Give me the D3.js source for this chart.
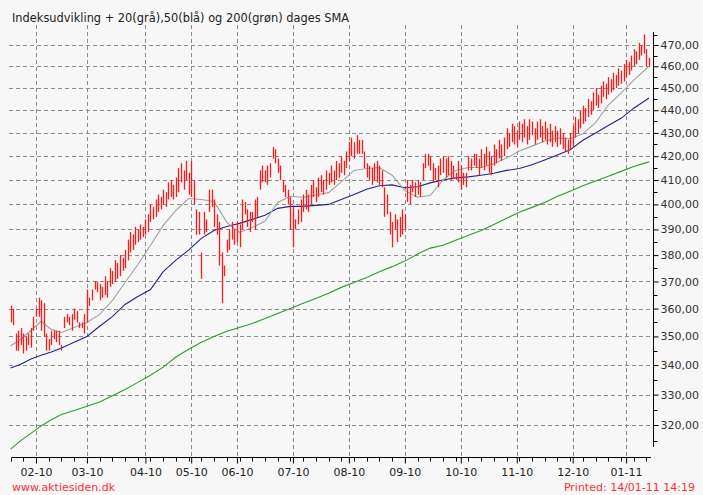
<!DOCTYPE html>
<html>
<head>
<meta charset="utf-8">
<script src="https://cdn.jsdelivr.net/npm/d3@7"></script>
<style>
  html, body { margin: 0; padding: 0; background: #f7f7f7; }
  svg { display: block; font-family: "DejaVu Sans", Verdana, sans-serif; }
</style>
</head>
<body>
<div id="chart"></div>
<script>
var title = 'Indeksudvikling + 20(grå),50(blå) og 200(grøn) dages SMA';
var siteText = 'www.aktiesiden.dk';
var printedText = 'Printed: 14/01-11 14:19';

var monthLabels = ['02-10', '03-10', '04-10', '05-10', '06-10', '07-10', '08-10', '09-10', '10-10', '11-10', '12-10', '01-11'];
var monthDay = [10, 30, 53, 71, 89, 111, 133, 155, 177, 199, 221, 242];
var yTicks = [320, 330, 340, 350, 360, 370, 380, 390, 400, 410, 420, 430, 440, 450, 460, 470];

var hi = [361,360,351,352,353,351,350,351,353,357,360,364,363,362,351,349,352,352,352,352,347,357,358,357,358,360,359,355,355,358,367,364,367,370,370,
  369,368,372,370,375,374,378,377,380,379,382,386,389,388,391,390,392,391,394,396,400,399,402,404,403,406,405,409,410,408,
  411,415,417,414,418,413,418,410,398,397,381,397,394,406,406,402,396,393,381,376,386,390,393,390,393,392,402,401,398,397,397,402,403,414,416,414,416,417,424,423,419,416,410,408,406,403,399,394,398,402,404,
  406,404,408,410,407,411,412,410,414,413,416,414,418,417,420,418,422,426,428,426,429,427,427,422,417,416,415,417,418,416,414,407,404,397,393,396,394,395,398,396,410,408,410,409,410,409,417,421,421,420,417,415,416,419,420,419,420,418,416,413,418,416,413,413,420,419,421,421,
  419,423,421,424,422,420,425,423,427,425,428,432,430,434,433,431,435,434,436,433,436,435,432,435,436,433,435,432,434,431,433,431,432,430,428,427,430,433,437,436,440,442,441,445,444,448,450,447,451,453,452,455,454,457,456,459,458,461,463,462,465,468,467,471,470,475,468,464];
var lo = [355,354,345,345,347,344,345,347,346,352,357,357,352,350,345,345,347,349,348,347,345,353,355,354,352,356,355,353,353,351,355,361,363,367,366,
  363,364,365,364,368,369,370,371,372,374,375,378,381,382,384,385,386,387,388,389,393,394,395,397,398,400,399,402,403,402,
  403,405,409,406,410,404,403,400,388,388,371,388,389,397,399,391,388,376,362,372,381,382,386,384,385,383,390,396,391,389,393,390,395,406,409,409,408,411,419,417,413,410,405,403,400,390,383,390,392,393,397,
  398,397,400,403,401,403,405,404,406,408,409,408,410,411,413,412,415,418,420,419,421,421,421,415,411,410,408,410,409,408,407,395,396,388,383,390,385,387,388,390,401,400,405,403,404,403,410,415,416,414,409,410,407,412,413,411,412,410,411,410,409,406,408,407,414,414,416,415,
  412,415,414,416,413,412,416,417,419,418,420,423,424,426,425,424,427,426,428,425,427,429,425,427,428,426,427,425,426,424,426,424,425,423,422,421,423,424,428,430,432,434,435,437,438,440,442,441,443,446,445,447,448,449,450,451,452,453,455,456,458,460,461,463,465,466,460,460];

var smaDay = [0,4,8,12,16,20,25,30,35,40,45,50,55,60,65,70,75,80,85,90,95,100,105,110,115,120,125,130,135,140,145,150,155,160,165,170,175,180,185,190,195,200,205,210,215,220,225,230,235,240,245,251];
var sma20 = [346.6,349,352.1,355.4,352.5,351.4,353.2,355,357.9,362.9,369.6,376.3,383.8,391.6,397.6,402.4,402,401.2,392.8,388.8,390.8,393.2,400.8,403.3,402.9,403.8,404.8,409.2,414,414.8,415.2,412,405.6,402.9,403.6,410,414,415.2,415.2,416.8,419.2,422.2,424.3,426.5,427.8,427.4,429.6,434.5,442.3,447.7,453.6,460];
var sma50 = [339,340.3,342.1,343.4,344.5,345.9,347.9,350,353.6,357.1,361.5,364.4,367,373.7,378.1,381.9,386.5,389.6,391.2,392.4,394,395.6,398.4,399.2,399.2,399.6,400,402,404,406.2,407.6,408,406.8,407.2,408.8,410,410.9,411.3,412,412.8,414,414.8,416.4,418.4,420.5,422.7,426.8,430,433.2,436.4,440.9,445.5];
var sma200 = [312.3,315,317.3,319.7,321.7,323.4,324.7,326.1,327.5,329.6,331.7,334.1,336.5,339.3,342.8,345.5,347.9,350,351.8,353.2,354.6,356.4,358.2,360,361.9,363.7,365.6,367.8,369.6,371.5,373.7,375.6,377.7,380.4,382.7,383.8,385.8,387.7,389.6,392,394.4,396.8,398.8,400.8,403.3,405.4,407.6,409.6,411.6,413.6,415.6,417.6];

;(function (window, document, undefined) {

  'use strict';

  var width = 703, height = 495;
  var plotLeft = 9, plotRight = 653, plotTop = 25, axisY = 457;

  var svg = d3.select('#chart').append('svg')
    .attr('width', width)
    .attr('height', height);

  svg.append('rect')
    .attr('width', width)
    .attr('height', height)
    .attr('fill', '#f7f7f7');

  var x = d3.scaleLinear().domain([0, hi.length - 1]).range([10.6, 649]);
  var y = d3.scaleLog().domain([320, 470]).range([425, 45]);

  var fmt = function (d) { return d.toFixed(2).replace('.', ','); };

  // grid
  svg.append('g').selectAll('line')
    .data(yTicks)
    .enter().append('line')
    .attr('x1', plotLeft).attr('x2', plotRight)
    .attr('y1', function (d) { return Math.round(y(d)) + 0.5; })
    .attr('y2', function (d) { return Math.round(y(d)) + 0.5; })
    .attr('stroke', '#8c8c8c')
    .attr('stroke-dasharray', '4,3');

  svg.append('g').selectAll('line')
    .data(monthDay)
    .enter().append('line')
    .attr('x1', function (d) { return Math.round(x(d)) + 0.5; })
    .attr('x2', function (d) { return Math.round(x(d)) + 0.5; })
    .attr('y1', plotTop).attr('y2', axisY)
    .attr('stroke', '#8c8c8c')
    .attr('stroke-dasharray', '4,3');

  // moving averages
  var smaLine = function (vals) {
    return d3.line()
      .x(function (d, i) { return x(smaDay[i]); })
      .y(function (d) { return y(d); })(vals);
  };

  [[sma200, '#2f9a2f'], [sma50, '#23238c'], [sma20, '#a0a0a0']].forEach(function (s) {
    svg.append('path')
      .attr('d', smaLine(s[0]))
      .attr('fill', 'none')
      .attr('stroke', s[1])
      .attr('stroke-width', 1.1);
  });

  // price bars
  svg.append('g').selectAll('line')
    .data(hi)
    .enter().append('line')
    .attr('x1', function (d, i) { return Math.round(x(i)) + 0.5; })
    .attr('x2', function (d, i) { return Math.round(x(i)) + 0.5; })
    .attr('y1', function (d) { return y(d); })
    .attr('y2', function (d, i) { return y(lo[i]); })
    .attr('stroke', '#ff1a1a')
    .attr('stroke-width', 1.3);

  // y axis on the right
  var yAxis = d3.axisRight(y)
    .tickValues(yTicks)
    .tickFormat(fmt)
    .tickSizeInner(5)
    .tickSizeOuter(0)
    .tickPadding(2);

  var gy = svg.append('g')
    .attr('transform', 'translate(' + (plotRight + 0.5) + ',0)')
    .call(yAxis);
  gy.select('.domain').remove();
  gy.append('line')
    .attr('y1', 32).attr('y2', 447)
    .attr('stroke', '#000');
  gy.selectAll('.minor')
    .data(d3.range(315, 480, 10))
    .enter().append('line')
    .attr('class', 'minor')
    .attr('x2', 4)
    .attr('y1', function (d) { return Math.round(y(d)) + 0.5; })
    .attr('y2', function (d) { return Math.round(y(d)) + 0.5; })
    .attr('stroke', '#000');
  gy.selectAll('text')
    .attr('font-size', 11)
    .attr('font-family', '"DejaVu Sans", Verdana, sans-serif')
    .attr('fill', '#333');

  // x axis
  var xAxis = d3.axisBottom(x)
    .tickValues(monthDay)
    .tickFormat(function (d, i) { return monthLabels[i]; })
    .tickSizeInner(6)
    .tickSizeOuter(0)
    .tickPadding(5);

  var gx = svg.append('g')
    .attr('transform', 'translate(0,' + (axisY + 0.5) + ')')
    .call(xAxis);
  gx.select('.domain').remove();
  gx.append('line')
    .attr('x1', 12).attr('x2', 651)
    .attr('stroke', '#000');
  gx.selectAll('.minor')
    .data(d3.range(0, hi.length, 5))
    .enter().append('line')
    .attr('class', 'minor')
    .attr('x1', function (d) { return Math.round(x(d)) + 0.5; })
    .attr('x2', function (d) { return Math.round(x(d)) + 0.5; })
    .attr('y2', 4)
    .attr('stroke', '#000');
  gx.selectAll('text')
    .attr('font-size', 11)
    .attr('font-family', '"DejaVu Sans", Verdana, sans-serif')
    .attr('fill', '#222');

  svg.append('text')
    .attr('x', 12).attr('y', 22)
    .attr('font-size', 11.4)
    .attr('fill', '#222')
    .text(title);

  svg.append('text')
    .attr('x', 12).attr('y', 491)
    .attr('font-size', 11)
    .attr('fill', '#ff3030')
    .text(siteText);

  svg.append('text')
    .attr('x', 695).attr('y', 491)
    .attr('text-anchor', 'end')
    .attr('font-size', 11)
    .attr('fill', '#ff3030')
    .text(printedText);

})(window, document);
</script>
</body>
</html>
